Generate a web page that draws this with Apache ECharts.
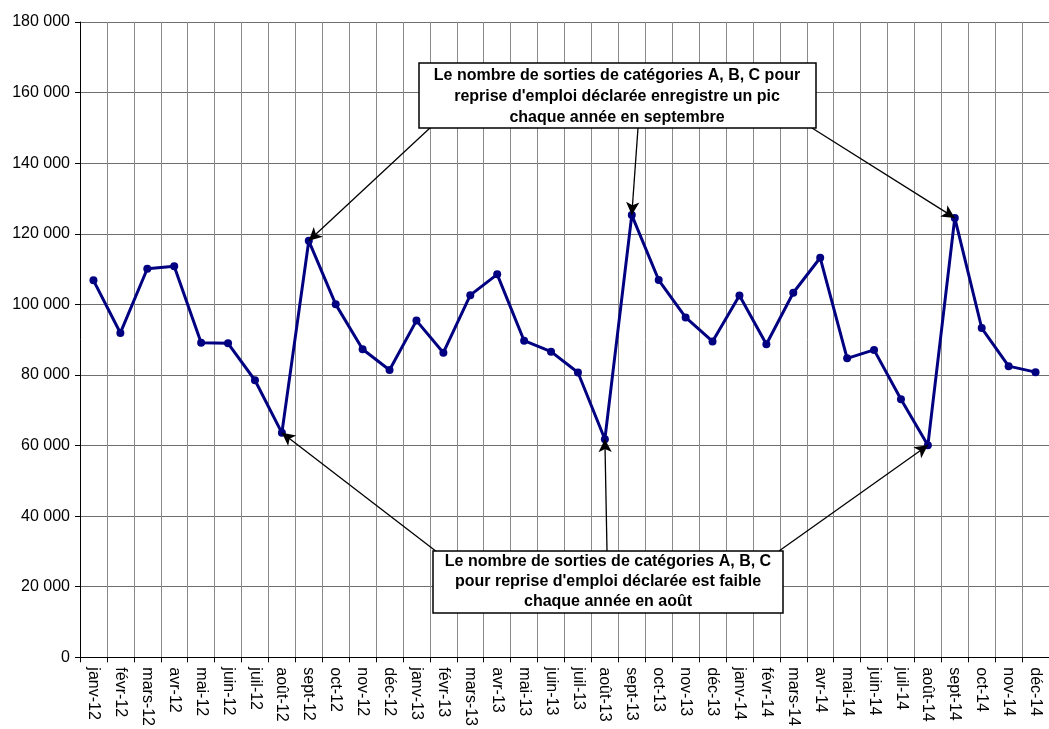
<!DOCTYPE html>
<html>
<head>
<meta charset="utf-8">
<script src="https://cdn.jsdelivr.net/npm/echarts@6/dist/echarts.min.js"></script>
<style>
html, body { margin: 0; padding: 0; background: #fff; }
#main { width: 1049px; height: 729px; }
</style>
</head>
<body>
<div id="main"></div>
<script>
// mois
const months = [
	"janv-12", "févr-12", "mars-12", "avr-12", "mai-12", "juin-12", "juil-12", "août-12", "sept-12", "oct-12", "nov-12", "déc-12",
	"janv-13", "févr-13", "mars-13", "avr-13", "mai-13", "juin-13", "juil-13", "août-13", "sept-13", "oct-13", "nov-13", "déc-13",
	"janv-14", "févr-14", "mars-14", "avr-14", "mai-14", "juin-14", "juil-14", "août-14", "sept-14", "oct-14", "nov-14", "déc-14"
];
// sorties pour reprise d'emploi déclarée
const sorties = [
	106800, 91900, 110100, 110800, 89150, 88950, 78500, 63600, 118000, 100000, 87300, 81400,
	95400, 86300, 102600, 108500, 89700, 86600, 80700, 61800, 125300, 106900, 96300, 89500,
	102500, 88700, 103300, 113200, 84700, 87100, 73100, 60100, 124500, 93300, 82500, 80800
];
const yTicks = { min: 0, max: 180000, interval: 20000 };

const noteTop = [
	"Le nombre de sorties de catégories A, B, C pour",
	"reprise d'emploi déclarée enregistre un pic",
	"chaque année en septembre"
];
const noteBottom = [
	"Le nombre de sorties de catégories A, B, C",
	"pour reprise d'emploi déclarée est faible",
	"chaque année en août"
];

const fmt = v => String(v).replace(/\B(?=(\d{3})+(?!\d))/g, " ");
const font = "Arial, 'Liberation Sans', sans-serif";

// flèches : départ depuis la boîte (px), arrivée sur le point (données)
const arrow = (x, y, m) => [
	{ x: x, y: y },
	{ coord: [m, sorties[months.indexOf(m)]] }
];

const chart = echarts.init(document.getElementById("main"));
const option = {
	animation: false,
	grid: { left: 80, right: 0, top: 22, bottom: 69 },
	xAxis: {
		type: "category",
		data: months,
		boundaryGap: true,
		axisLine: { lineStyle: { color: "#000", width: 1 } },
		axisTick: { show: true, interval: 0, length: 5, lineStyle: { color: "#000" } },
		axisLabel: { interval: 0, rotate: -90, color: "#000", fontSize: 16, fontFamily: font, margin: 10 },
		splitLine: { show: true, interval: 0, lineStyle: { color: "#8a8a8a", width: 1 } }
	},
	yAxis: {
		type: "value",
		min: yTicks.min,
		max: yTicks.max,
		interval: yTicks.interval,
		axisLine: { show: true, lineStyle: { color: "#000", width: 1 } },
		axisTick: { show: true, length: 5, lineStyle: { color: "#000" } },
		axisLabel: { color: "#000", fontSize: 16, fontFamily: font, margin: 10, formatter: fmt },
		splitLine: { show: true, lineStyle: { color: "#6e6e6e", width: 1 } }
	},
	series: [
		{
			type: "line",
			data: sorties,
			symbol: "circle",
			symbolSize: 8,
			lineStyle: { color: "#000080", width: 3 },
			itemStyle: { color: "#000080" },
			z: 3,
			markLine: {
				silent: true,
				symbol: ["none", "arrow"],
				symbolSize: [10, 13],
				label: { show: false },
				lineStyle: { color: "#000", width: 1.3, type: "solid" },
				data: [
					arrow(431, 127, "sept-12"),
					arrow(638, 128, "sept-13"),
					arrow(812, 128, "sept-14"),
					arrow(437, 552, "août-12"),
					arrow(607, 551, "août-13"),
					arrow(779, 551, "août-14")
				]
			}
		}
	],
	graphic: [
		{ type: "rect", z: 100, shape: { x: 419, y: 63, width: 397, height: 65 }, style: { fill: "#fff", stroke: "#000", lineWidth: 1.5 } },
		{
			type: "text", z: 101, x: 617, y: 63,
			style: { text: noteTop.join("\n"), align: "center", fill: "#000", font: "bold 16px " + font, lineHeight: 21, padding: [2, 0, 0, 0] }
		},
		{ type: "rect", z: 100, shape: { x: 433, y: 551, width: 350, height: 62 }, style: { fill: "#fff", stroke: "#000", lineWidth: 1.5 } },
		{
			type: "text", z: 101, x: 608, y: 551,
			style: { text: noteBottom.join("\n"), align: "center", fill: "#000", font: "bold 16px " + font, lineHeight: 20, padding: [1, 0, 0, 0] }
		}
	]
};
chart.setOption(option);
</script>
</body>
</html>
